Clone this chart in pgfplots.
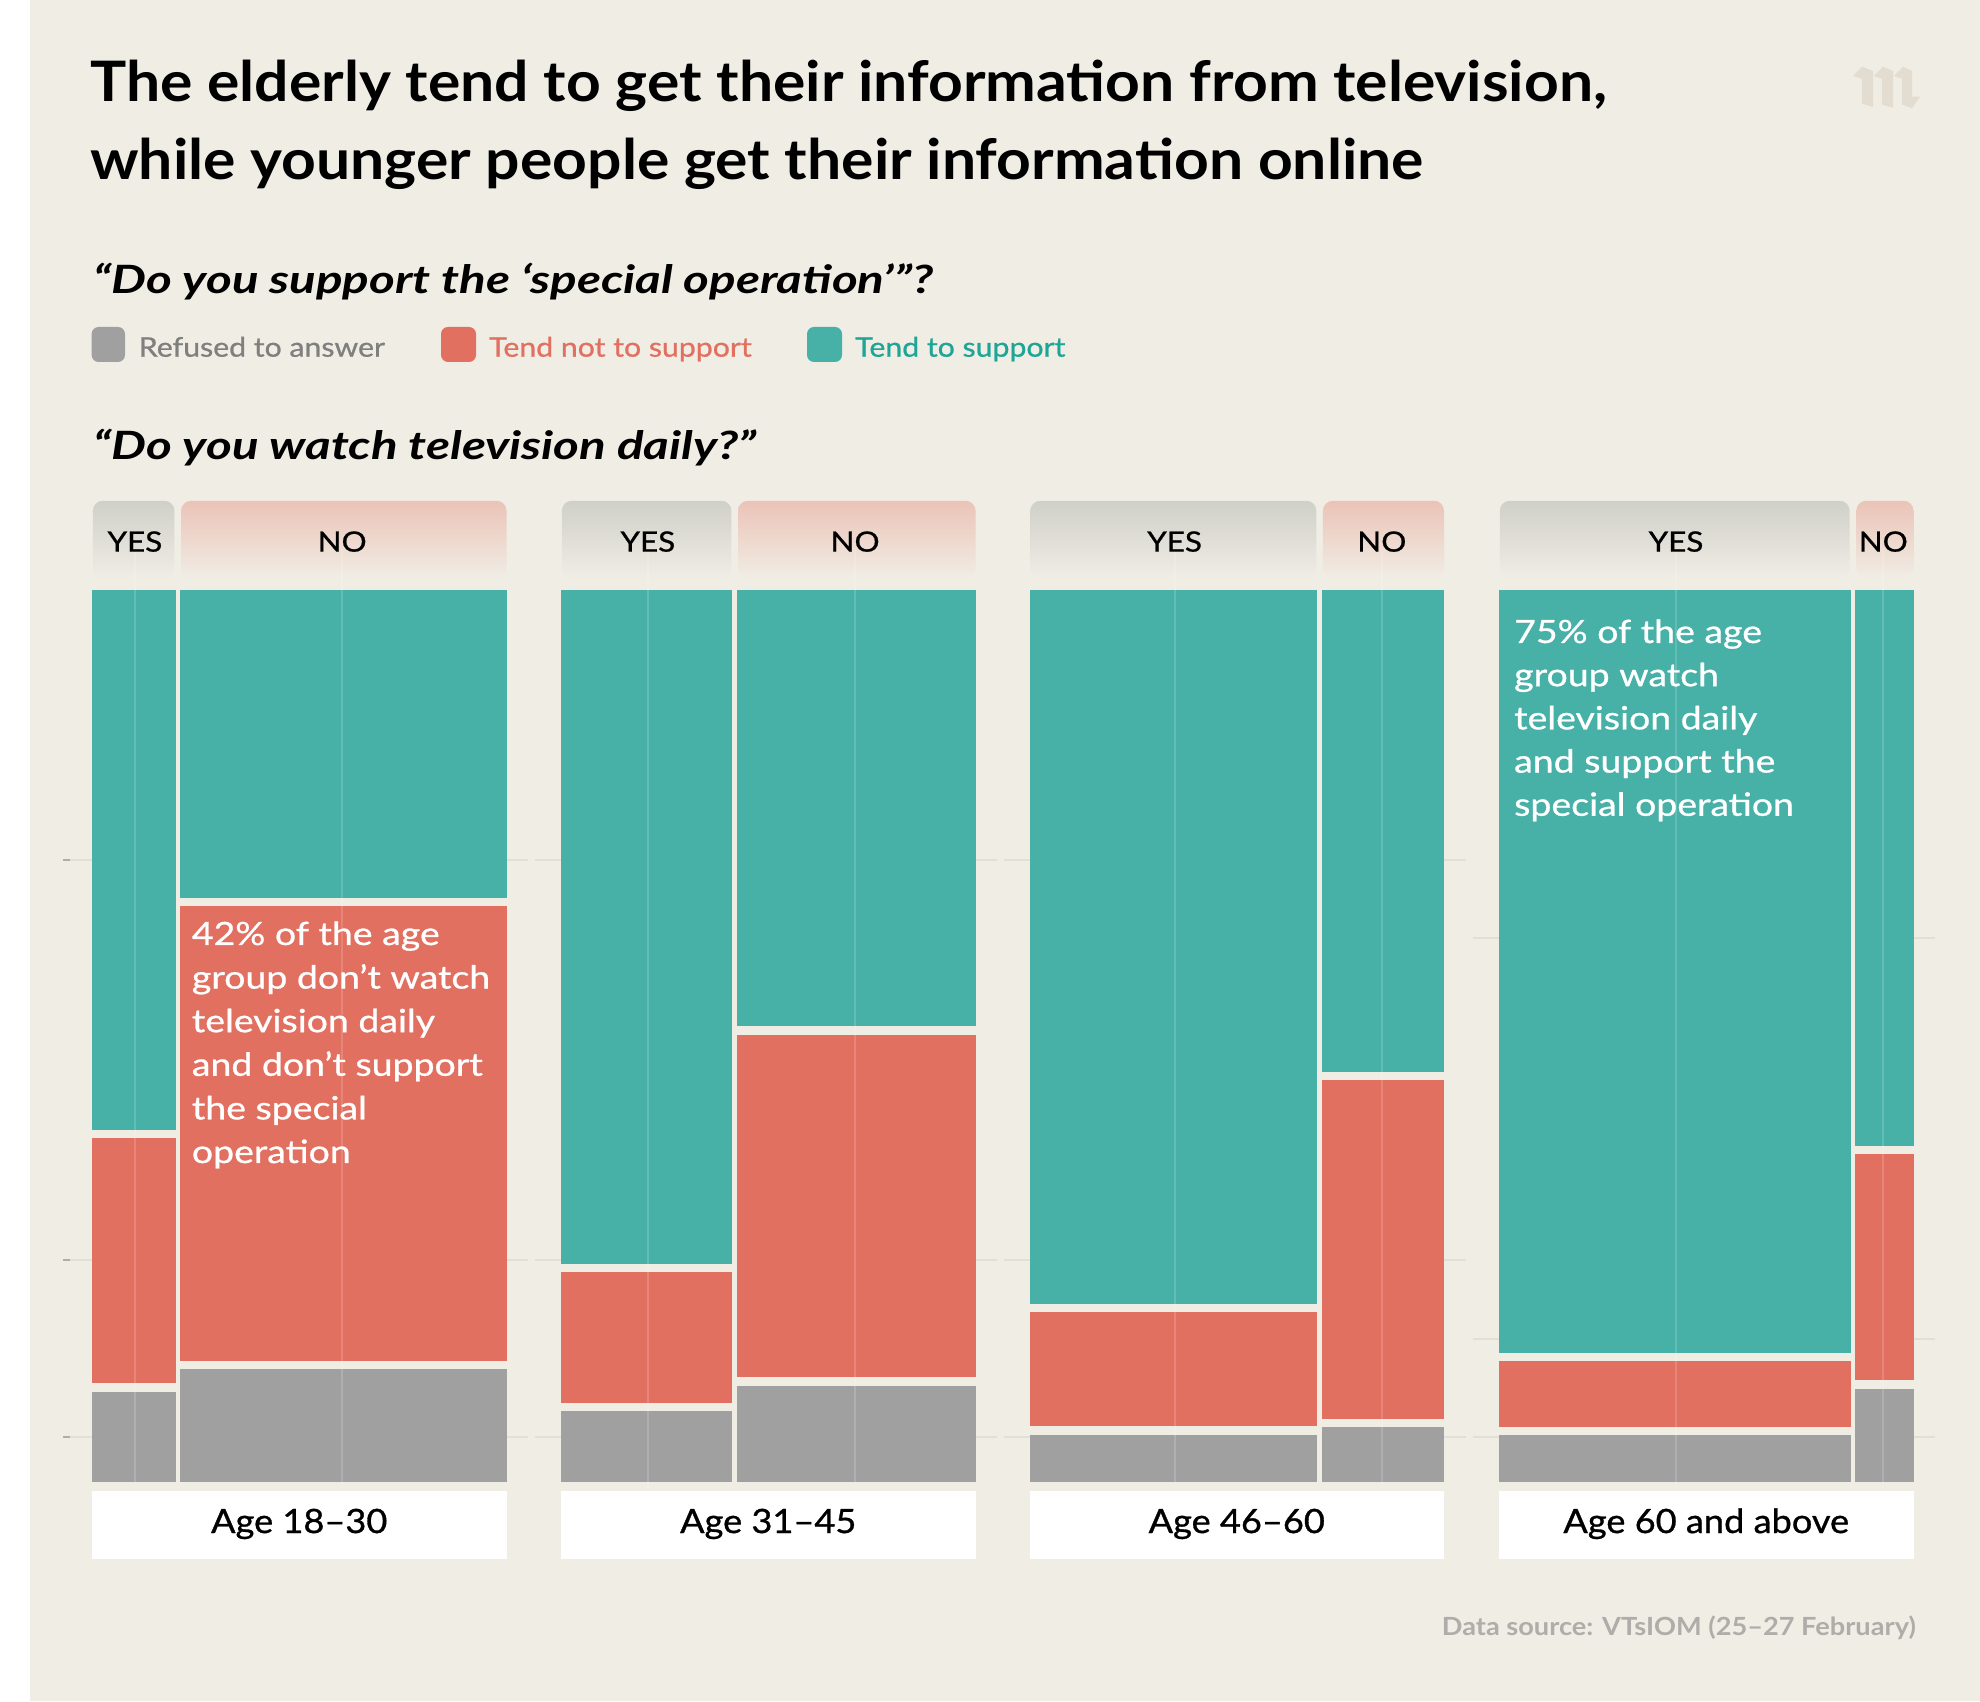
\documentclass[border=0pt]{standalone}
\usepackage{pgfplots}
\pgfplotsset{compat=1.18}
\usepackage{fontspec}
\setmainfont{Lato}
\newfontfamily\ttlfont{Lato}[FakeStretch=1.086]
\newfontfamily\subfont{Lato}[FakeStretch=1.265]
\newfontfamily\legfont{Lato}[FakeStretch=1.12, FakeBold=0.8]
\newfontfamily\agefont{Lato}[FakeStretch=1.08, FakeBold=0.9]
\newfontfamily\annfont{Lato}[FakeStretch=1.17, FakeBold=0.8]
\newfontfamily\srcfont{Lato}[FakeStretch=1.087]
\definecolor{bgc}{HTML}{F0EDE5}
\definecolor{cteal}{HTML}{47B1A7}
\definecolor{cred}{HTML}{E27061}
\definecolor{cgray}{HTML}{A0A0A0}
\definecolor{tabgray}{HTML}{CFD0C8}
\definecolor{tabred}{HTML}{EBC3B7}
\definecolor{legray}{HTML}{7F7F7F}
\definecolor{leteal}{HTML}{1DA595}
\definecolor{srcgray}{HTML}{AEADA9}
\definecolor{gridc}{HTML}{E2DFD7}
\definecolor{tickc}{HTML}{B0AEA9}
\definecolor{logoc}{HTML}{E3DDD1}
\pgfplotsset{
  panel/.style={scale only axis, width=414.5pt, height=892pt,
    xmin=0, xmax=100, ymin=0, ymax=100, hide axis, clip=false, anchor=south west},
  sep/.style={draw=bgc, line width=8.6pt},
  vsep/.style={draw=bgc, line width=4.4pt},
  cline/.style={draw=white, opacity=0.16, line width=2pt},
}
\tikzset{
  tablab/.style={anchor=base, inner sep=0pt, font=\legfont\fontsize{28}{30}\selectfont},
  agelab/.style={anchor=base, inner sep=0pt, font=\agefont\fontsize{33.5}{36}\selectfont},
  ann/.style={anchor=base west, inner sep=0pt, text=white, font=\annfont\fontsize{32}{36}\selectfont},
  px/.style={x=1pt, y=1pt, yshift=1701pt, yscale=-1},
}
\begin{document}
\begin{tikzpicture}
\useasboundingbox (0pt,0pt) rectangle (1980pt,1701pt);
\fill[white] (0pt,0pt) rectangle (1980pt,1701pt);
\fill[bgc] (30pt,0pt) rectangle (1980pt,1701pt);

\begin{scope}[px]
% faint grid lines behind bars
\foreach \yy in {860,1260,1437}{
  \draw[gridc, line width=2pt] (66,\yy) -- (528,\yy);
  \draw[gridc, line width=2pt] (535,\yy) -- (997,\yy);
  \draw[gridc, line width=2pt] (1003.5,\yy) -- (1466,\yy);
  \draw[tickc, line width=2pt] (63,\yy) -- (70,\yy);
}
\foreach \yy in {938,1339,1437}{
  \draw[gridc, line width=2pt] (1473,\yy) -- (1935,\yy);
}
% logo
\fill[logoc] (1853,76) -- (1862,66.7) -- (1873,71) -- (1873,107) -- (1862,103.5) -- (1862,79) -- cycle;
\fill[logoc] (1874,76) -- (1883,66.7) -- (1893,71) -- (1893,108) -- (1882,104.5) -- (1882,79) -- cycle;
\fill[logoc] (1894,76) -- (1903,66.7) -- (1912,71) -- (1912,96.7) -- (1920,96.7) -- (1912,108.3) -- (1902,104.5) -- (1902,79) -- cycle;
% titles
\node[anchor=base west, inner sep=0pt, font=\ttlfont\fontsize{55.8}{60}\selectfont\bfseries] at (90,101.7) {The elderly tend to get their information from television,};
\node[anchor=base west, inner sep=0pt, font=\ttlfont\fontsize{55.8}{60}\selectfont\bfseries] at (90,180) {while younger people get their information online};
\node[anchor=base west, inner sep=0pt, font=\subfont\fontsize{39}{42}\selectfont\bfseries\itshape] at (93,293.3) {“Do you support the ‘special operation’”?};
\node[anchor=base west, inner sep=0pt, font=\subfont\fontsize{39}{42}\selectfont\bfseries\itshape] at (93,460) {“Do you watch television daily?”};
% legend
\fill[cgray, rounded corners=7pt] (91.6,327) rectangle (125,362);
\fill[cred, rounded corners=7pt] (441,327) rectangle (476,362);
\fill[cteal, rounded corners=7pt] (807,327) rectangle (842,362);
\node[anchor=base west, inner sep=0pt, text=legray, font=\legfont\fontsize{27}{30}\selectfont] at (138.6,356.7) {Refused to answer};
\node[anchor=base west, inner sep=0pt, text=cred, font=\legfont\fontsize{27}{30}\selectfont] at (489,356.7) {Tend not to support};
\node[anchor=base west, inner sep=0pt, text=leteal, font=\legfont\fontsize{27}{30}\selectfont] at (855,356.7) {Tend to support};
% source
\node[anchor=base east, inner sep=0pt, text=srcgray, font=\srcfont\fontsize{25}{28}\selectfont\bfseries] at (1916,1635) {Data source: VTsIOM (25–27 February)};
\end{scope}

% ================= Panel 1: Age 18-30 =================
\begin{axis}[panel, ybar stacked, bar width=20.7, at={(92pt,219pt)}]
\addplot[fill=cgray, draw=none] coordinates {(10.35,10.6)};
\addplot[fill=cred, draw=none] coordinates {(10.35,28.4)};
\addplot[fill=cteal, draw=none] coordinates {(10.35,61.0)};
\end{axis}
\begin{axis}[panel, ybar stacked, bar width=79.3, at={(92pt,219pt)}]
\addplot[fill=cgray, draw=none] coordinates {(60.35,13.1)};
\addplot[fill=cred, draw=none] coordinates {(60.35,51.9)};
\addplot[fill=cteal, draw=none] coordinates {(60.35,35.0)};
\end{axis}
\begin{axis}[panel, at={(92pt,219pt)}]
\addplot[sep] coordinates {(0,10.6) (20.7,10.6)};
\addplot[sep] coordinates {(0,39.0) (20.7,39.0)};
\addplot[sep] coordinates {(20.7,13.1) (100,13.1)};
\addplot[sep] coordinates {(20.7,65.0) (100,65.0)};
\addplot[vsep] coordinates {(20.7,0) (20.7,100)};
\addplot[draw=none, top color=tabgray, bottom color=bgc, rounded corners=10pt] coordinates {(0.2,101.3) (0.2,110) (19.9,110) (19.9,101.3)} -- cycle;
\addplot[draw=none, top color=tabred, bottom color=bgc, rounded corners=10pt] coordinates {(21.5,101.3) (21.5,110) (100,110) (100,101.3)} -- cycle;
\addplot[cline] coordinates {(10.35,-0.7) (10.35,104.5)};
\addplot[cline] coordinates {(60.35,-0.7) (60.35,104.5)};
\addplot[fill=white, draw=none] coordinates {(0,-1) (100,-1) (100,-8.63) (0,-8.63)} -- cycle;
\node[tablab] at (axis cs:10.35,104.3) {YES};
\node[tablab] at (axis cs:60.35,104.3) {NO};
\node[agelab] at (axis cs:50,-5.72) {Age 18–30};
\end{axis}

% ================= Panel 2: Age 31-45 =================
\begin{axis}[panel, ybar stacked, bar width=41.9, at={(561pt,219pt)}]
\addplot[fill=cgray, draw=none] coordinates {(20.95,8.4)};
\addplot[fill=cred, draw=none] coordinates {(20.95,15.6)};
\addplot[fill=cteal, draw=none] coordinates {(20.95,76.0)};
\end{axis}
\begin{axis}[panel, ybar stacked, bar width=58.1, at={(561pt,219pt)}]
\addplot[fill=cgray, draw=none] coordinates {(70.95,11.3)};
\addplot[fill=cred, draw=none] coordinates {(70.95,39.3)};
\addplot[fill=cteal, draw=none] coordinates {(70.95,49.4)};
\end{axis}
\begin{axis}[panel, at={(561pt,219pt)}]
\addplot[sep] coordinates {(0,8.4) (41.9,8.4)};
\addplot[sep] coordinates {(0,24.0) (41.9,24.0)};
\addplot[sep] coordinates {(41.9,11.3) (100,11.3)};
\addplot[sep] coordinates {(41.9,50.6) (100,50.6)};
\addplot[vsep] coordinates {(41.9,0) (41.9,100)};
\addplot[draw=none, top color=tabgray, bottom color=bgc, rounded corners=10pt] coordinates {(0.2,101.3) (0.2,110) (41.1,110) (41.1,101.3)} -- cycle;
\addplot[draw=none, top color=tabred, bottom color=bgc, rounded corners=10pt] coordinates {(42.7,101.3) (42.7,110) (100,110) (100,101.3)} -- cycle;
\addplot[cline] coordinates {(20.95,-0.7) (20.95,104.5)};
\addplot[cline] coordinates {(70.95,-0.7) (70.95,104.5)};
\addplot[fill=white, draw=none] coordinates {(0,-1) (100,-1) (100,-8.63) (0,-8.63)} -- cycle;
\node[tablab] at (axis cs:20.95,104.3) {YES};
\node[tablab] at (axis cs:70.95,104.3) {NO};
\node[agelab] at (axis cs:50,-5.72) {Age 31–45};
\end{axis}

% ================= Panel 3: Age 46-60 =================
\begin{axis}[panel, ybar stacked, bar width=70.0, at={(1029.5pt,219pt)}]
\addplot[fill=cgray, draw=none] coordinates {(35.0,5.8)};
\addplot[fill=cred, draw=none] coordinates {(35.0,13.7)};
\addplot[fill=cteal, draw=none] coordinates {(35.0,80.5)};
\end{axis}
\begin{axis}[panel, ybar stacked, bar width=30.0, at={(1029.5pt,219pt)}]
\addplot[fill=cgray, draw=none] coordinates {(85.0,6.6)};
\addplot[fill=cred, draw=none] coordinates {(85.0,38.9)};
\addplot[fill=cteal, draw=none] coordinates {(85.0,54.5)};
\end{axis}
\begin{axis}[panel, at={(1029.5pt,219pt)}]
\addplot[sep] coordinates {(0,5.8) (70.0,5.8)};
\addplot[sep] coordinates {(0,19.5) (70.0,19.5)};
\addplot[sep] coordinates {(70.0,6.6) (100,6.6)};
\addplot[sep] coordinates {(70.0,45.5) (100,45.5)};
\addplot[vsep] coordinates {(70.0,0) (70.0,100)};
\addplot[draw=none, top color=tabgray, bottom color=bgc, rounded corners=10pt] coordinates {(0.2,101.3) (0.2,110) (69.2,110) (69.2,101.3)} -- cycle;
\addplot[draw=none, top color=tabred, bottom color=bgc, rounded corners=10pt] coordinates {(70.8,101.3) (70.8,110) (100,110) (100,101.3)} -- cycle;
\addplot[cline] coordinates {(35.0,-0.7) (35.0,104.5)};
\addplot[cline] coordinates {(85.0,-0.7) (85.0,104.5)};
\addplot[fill=white, draw=none] coordinates {(0,-1) (100,-1) (100,-8.63) (0,-8.63)} -- cycle;
\node[tablab] at (axis cs:35.0,104.3) {YES};
\node[tablab] at (axis cs:85.0,104.3) {NO};
\node[agelab] at (axis cs:50,-5.72) {Age 46–60};
\end{axis}

% ================= Panel 4: Age 60 and above =================
\begin{axis}[panel, ybar stacked, bar width=85.4, at={(1499pt,219pt)}]
\addplot[fill=cgray, draw=none] coordinates {(42.7,5.7)};
\addplot[fill=cred, draw=none] coordinates {(42.7,8.3)};
\addplot[fill=cteal, draw=none] coordinates {(42.7,86.0)};
\end{axis}
\begin{axis}[panel, ybar stacked, bar width=14.6, at={(1499pt,219pt)}]
\addplot[fill=cgray, draw=none] coordinates {(92.7,10.9)};
\addplot[fill=cred, draw=none] coordinates {(92.7,26.3)};
\addplot[fill=cteal, draw=none] coordinates {(92.7,62.8)};
\end{axis}
\begin{axis}[panel, at={(1499pt,219pt)}]
\addplot[sep] coordinates {(0,5.7) (85.4,5.7)};
\addplot[sep] coordinates {(0,14.0) (85.4,14.0)};
\addplot[sep] coordinates {(85.4,10.9) (100,10.9)};
\addplot[sep] coordinates {(85.4,37.2) (100,37.2)};
\addplot[vsep] coordinates {(85.4,0) (85.4,100)};
\addplot[draw=none, top color=tabgray, bottom color=bgc, rounded corners=10pt] coordinates {(0.2,101.3) (0.2,110) (84.6,110) (84.6,101.3)} -- cycle;
\addplot[draw=none, top color=tabred, bottom color=bgc, rounded corners=10pt] coordinates {(86.2,101.3) (86.2,110) (100,110) (100,101.3)} -- cycle;
\addplot[cline] coordinates {(42.7,-0.7) (42.7,104.5)};
\addplot[cline] coordinates {(92.7,-0.7) (92.7,104.5)};
\addplot[fill=white, draw=none] coordinates {(0,-1) (100,-1) (100,-8.63) (0,-8.63)} -- cycle;
\node[tablab] at (axis cs:42.7,104.3) {YES};
\node[tablab] at (axis cs:92.7,104.3) {NO};
\node[agelab] at (axis cs:50,-5.72) {Age 60 and above};
\end{axis}

% annotations
\begin{scope}[px]
\node[ann] at (191.7,945) {42\% of the age};
\node[ann] at (191.7,988.6) {group don’t watch};
\node[ann] at (191.7,1032.2) {television daily};
\node[ann] at (191.7,1075.8) {and don’t support};
\node[ann] at (191.7,1119.4) {the special};
\node[ann] at (191.7,1163) {operation};
\node[ann] at (1514,643) {75\% of the age};
\node[ann] at (1514,686.2) {group watch};
\node[ann] at (1514,729.4) {television daily};
\node[ann] at (1514,772.6) {and support the};
\node[ann] at (1514,815.8) {special operation};
\end{scope}
\end{tikzpicture}
\end{document}
